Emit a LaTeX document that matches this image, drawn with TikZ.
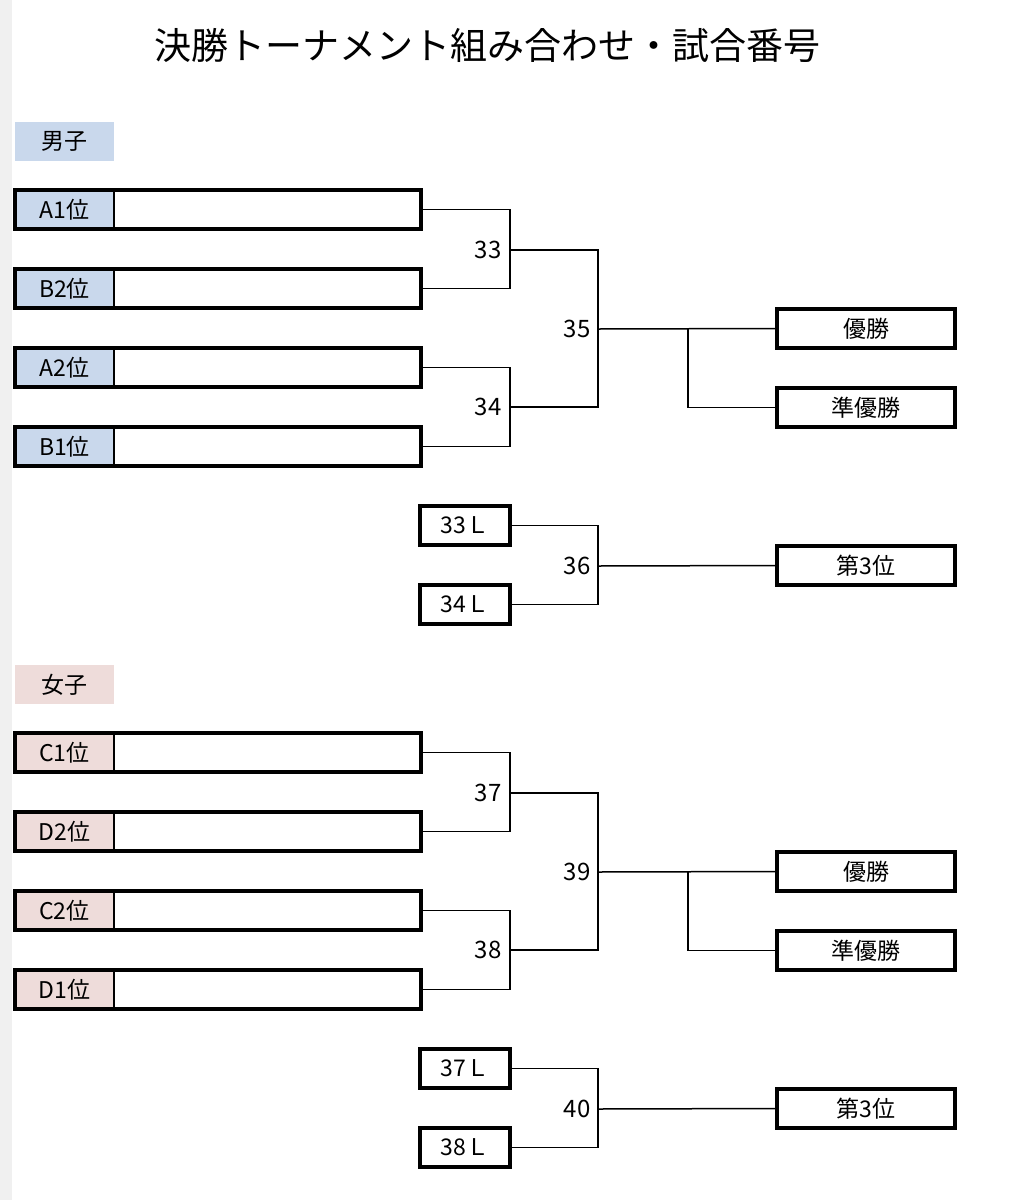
\documentclass[tikz,border=0pt]{standalone}
\usepackage{fontspec}
\setmainfont{Noto Sans CJK JP}
\begin{document}
\begin{tikzpicture}[x=1pt,y=-1pt,
 box/.style={draw,line width=3.2pt,inner sep=0},
 lbl/.style={font=\fontsize{23}{23}\selectfont},
 ln/.style={line width=1.5pt},
 num/.style={font=\fontsize{24}{24}\selectfont,anchor=east}]
\useasboundingbox (0,0) rectangle (1011,1200);
\fill[white] (0,0) rectangle (1011,1200);
\fill[gray!12] (0,0) rectangle (12,1200);
\node[font=\fontsize{37}{37}\selectfont] (title) at (487,45) {決勝トーナメント組み合わせ・試合番号};
\foreach \o/\col/\sx/\a/\b/\c/\d/\ma/\mb/\mc/\md/\l/\m/\la/\lb in
 {0/blue1/男子/A1位/B2位/A2位/B1位/33/34/35/36/33Ｌ/34Ｌ/a/b,
  543/pink1/女子/C1位/D2位/C2位/D1位/37/38/39/40/37Ｌ/38Ｌ/c/d}{
\begin{scope}[yshift=-\o pt]
\definecolor{blue1}{HTML}{C9D8EC}\definecolor{pink1}{HTML}{EEDCDA}
\node[fill=\col,minimum width=99pt,minimum height=39pt,lbl,inner sep=0] (sx\la) at (64.5,141.5) {\sx};
\foreach \y/\t/\n in {209.5/\a/1,288.5/\b/2,367.5/\c/3,446.5/\d/4}{
 \fill[\col] (15,\y-19.5) rectangle (114,\y+19.5);
 \node[lbl] (t\la\n) at (64.5,\y) {\t};
 \node[box,minimum width=406pt,minimum height=39pt] (p\la\n) at (218,\y) {};
 \draw[line width=1.5pt] (114,\y-19.5) -- (114,\y+19.5);
}
\coordinate (j1) at (510,250); \coordinate (j2) at (510,407);
\coordinate (k) at (598,329); \coordinate (k3) at (598,566);
\draw[ln] (p\la1.east) -| (j1) |- (p\la2.east);
\draw[ln] (p\la3.east) -| (j2) |- (p\la4.east);
\draw[ln] (j1) -| (k) |- (j2);
\node[num] (n1) at (505,250) {\ma};
\node[num] (n2) at (505,407) {\mb};
\node[num] (n3) at (594,329) {\mc};
\node[num] (n4) at (594,566) {\md};
\node[box,minimum width=178pt,minimum height=39pt,lbl] (w\la) at (866,328.5) {優勝};
\node[box,minimum width=178pt,minimum height=39pt,lbl] (r\la) at (866,407.5) {準優勝};
\node[box,minimum width=178pt,minimum height=39pt,lbl] (th\la) at (866,565.5) {第3位};
\draw[ln] (k) -- (w\la.west);
\draw[ln] (688,329) |- (r\la.west);
\node[box,minimum width=90pt,minimum height=39pt,lbl] (l1\la) at (465,525.5) {\l};
\node[box,minimum width=90pt,minimum height=39pt,lbl] (l2\la) at (465,604.5) {\m};
\draw[ln] (l1\la.east) -| (k3) |- (l2\la.east);
\draw[ln] (k3) -- (th\la.west);
\end{scope}}
\end{tikzpicture}
\end{document}
